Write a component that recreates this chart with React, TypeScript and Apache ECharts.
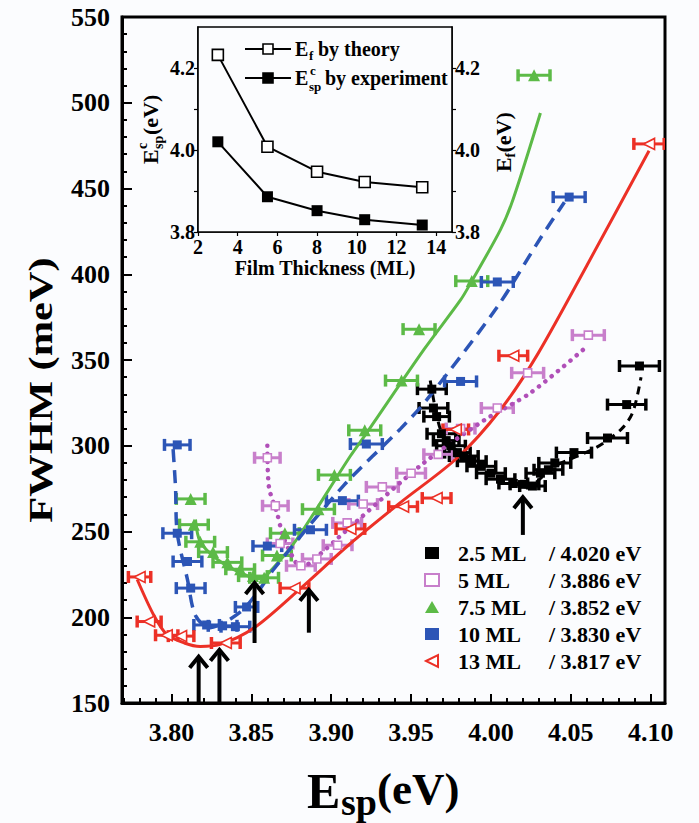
import React, { useEffect, useRef } from 'react';
import * as echarts from 'echarts';

const FONT = "'Liberation Serif', 'Times New Roman', serif";
const BG = '#fbfcfe';
const LEFT_TRIANGLE = 'path://M0,5L10,0L10,10Z';

// ---------- main chart data ----------
const layerNames = ['2.5 ML', '5 ML', '7.5 ML', '10 ML', '13 ML'];
const criticalEnergy = ['4.020', '3.886', '3.852', '3.830', '3.817'];

const xTickLabels = [3.8, 3.85, 3.9, 3.95, 4.0, 4.05, 4.1];

// [Esp (eV), FWHM (meV), half width of horizontal error bar (eV)]
const points2p5 = [
  [3.963, 333, 0.009], [3.964, 322, 0.009], [3.966, 317, 0.008], [3.969, 307, 0.009],
  [3.972, 303, 0.008], [3.975, 300, 0.009], [3.979, 296, 0.008], [3.983, 294, 0.009],
  [3.988, 291, 0.009], [3.994, 288, 0.009], [4.000, 284, 0.009], [4.006, 280.5, 0.009],
  [4.014, 278, 0.009], [4.021, 277.5, 0.009], [4.026, 276.5, 0.008], [4.031, 284, 0.009],
  [4.036, 286, 0.009], [4.040, 290, 0.01], [4.052, 296, 0.011], [4.073, 304.5, 0.0125],
  [4.085, 324, 0.012], [4.093, 346.5, 0.0125],
];
const points5 = [
  [3.860, 293, 0.008], [3.865, 265, 0.008], [3.868, 243, 0.008], [3.881, 230, 0.009],
  [3.891, 234, 0.009], [3.904, 242, 0.009], [3.910, 255, 0.009], [3.920, 266, 0.009],
  [3.932, 276, 0.01], [3.950, 284, 0.009], [3.967, 295, 0.009], [3.981, 310, 0.009],
  [4.004, 322, 0.01], [4.023, 342.5, 0.01], [4.061, 364.5, 0.01],
];
const points7p5 = [
  [3.812, 269, 0.009], [3.814, 254, 0.009], [3.818, 244, 0.009], [3.826, 238, 0.009],
  [3.835, 232, 0.009], [3.843, 228, 0.009], [3.851, 224, 0.009], [3.858, 223, 0.009],
  [3.866, 236, 0.009], [3.871, 249, 0.009], [3.892, 263, 0.01], [3.902, 283, 0.01],
  [3.921, 309, 0.01], [3.944, 338, 0.01], [3.955, 368, 0.01], [3.988, 396, 0.01],
  [4.027, 516, 0.01],
];
const points10 = [
  [3.8036, 300.5, 0.008], [3.8036, 249, 0.009], [3.810, 232.5, 0.009], [3.812, 217, 0.009],
  [3.822, 195.5, 0.008], [3.832, 195, 0.009], [3.840, 194.5, 0.009], [3.847, 206, 0.007],
  [3.860, 241.5, 0.009], [3.887, 251, 0.01], [3.907, 268, 0.01], [3.922, 301, 0.01],
  [3.981, 337.5, 0.01], [4.004, 395.5, 0.01], [4.049, 445, 0.01],
];
const points13 = [
  [3.780, 223.5, 0.007], [3.786, 197.5, 0.0075], [3.797, 189.5, 0.007], [3.806, 189, 0.008],
  [3.834, 185, 0.009], [3.877, 217, 0.009], [3.912, 251.5, 0.009], [3.945, 264.5, 0.009],
  [3.966, 269.5, 0.009], [3.978, 309.5, 0.008], [4.014, 352.5, 0.009], [4.099, 476, 0.0095],
];

// guide curves
const curve2p5 = [
  [3.962, 338], [3.966, 318], [3.970, 306], [3.980, 296], [4.000, 283], [4.022, 276],
  [4.040, 288], [4.066, 299], [4.082, 310], [4.089, 320], [4.094, 340],
];
const curve5 = [
  [3.860, 300], [3.861, 276], [3.866, 261], [3.870, 247], [3.876, 235], [3.881, 229],
  [3.892, 236], [3.904, 246], [3.916, 256], [3.958, 290], [3.996, 315], [4.025, 331], [4.059, 357],
];
const curve7p5 = [
  [3.815, 257], [3.818, 244], [3.829, 233.5], [3.843, 226], [3.8545, 222.5], [3.870, 235.5],
  [3.881, 249], [3.912, 294], [3.9226, 308], [3.958, 356], [3.981, 385], [3.988, 396],
  [4.006, 426], [4.014, 444], [4.031, 494],
];
const curve10 = [
  [3.801, 298], [3.8025, 276], [3.8036, 249], [3.810, 222], [3.815, 201], [3.824, 194],
  [3.843, 203], [3.855, 216], [3.864, 228], [3.908, 277], [3.9435, 310], [3.960, 327],
  [4.004, 381], [4.031, 421], [4.046, 442],
];
const curve13 = [
  [3.7785, 222], [3.789, 201], [3.797, 190], [3.808, 185], [3.818, 183], [3.830, 184],
  [3.852, 194], [3.881, 217], [3.912, 243], [3.9435, 267], [3.979, 293], [4.006, 321],
  [4.029, 353], [4.060, 405], [4.099, 472],
];

// arrows marking the critical energies
const arrowEsp = [3.817, 3.830, 3.852, 3.886, 4.020];
const arrowTail = [150, 150, 185, 191, 248];
const arrowTip = [177, 181, 220, 216, 270];

// ---------- inset data ----------
const insetThickness = [3, 5.5, 8, 10.4, 13.3];
const insetEfTheory = [4.232, 4.008, 3.947, 3.922, 3.909];
const insetEspExperiment = [4.020, 3.886, 3.852, 3.830, 3.817];
const insetXTicks = [2, 4, 6, 8, 10, 12, 14];
const insetYLabels = [3.8, 4.0, 4.2];
const insetYTicks = [3.8, 3.9, 4.0, 4.1, 4.2];

const specs = [
  { name: layerNames[0], pts: points2p5, curve: curve2p5, color: '#000000', lineColor: '#000000', symbol: 'rect', size: 9, open: false, dash: [8, 6], lw: 3, cap: 'butt' },
  { name: layerNames[1], pts: points5, curve: curve5, color: '#c87fcb', lineColor: '#b04fb8', symbol: 'rect', size: 8, open: true, dash: [0.1, 8], lw: 4.5, cap: 'round' },
  { name: layerNames[2], pts: points7p5, curve: curve7p5, color: '#5cba47', lineColor: '#5cba47', symbol: 'triangle', size: 12, open: false, dash: 'solid', lw: 3, cap: 'butt' },
  { name: layerNames[3], pts: points10, curve: curve10, color: '#2c55b6', lineColor: '#2c55b6', symbol: 'rect', size: 9, open: false, dash: [13, 8], lw: 3.5, cap: 'butt' },
  { name: layerNames[4], pts: points13, curve: curve13, color: '#ec3026', lineColor: '#ec3026', symbol: LEFT_TRIANGLE, size: 11, open: true, dash: 'solid', lw: 3, cap: 'butt' },
];

function txt(x: number, y: number, text: string, size: number, align = 'left') {
  return {
    type: 'text', x, y, silent: true,
    style: {
      text, fontFamily: FONT, fontWeight: 'bold', fontSize: size, fill: '#000',
      align, verticalAlign: 'middle', textAlign: align, textVerticalAlign: 'middle',
    },
  };
}

function buildOption() {
  const minorXTicks: number[] = [];
  for (let i = 377; i <= 410; i++) minorXTicks.push(i / 100);

  const series: any[] = [];
  specs.forEach((s) => {
    series.push({
      type: 'custom', name: s.name + ' error', xAxisIndex: 0, yAxisIndex: 0, clip: true, silent: true, z: 2,
      data: s.pts,
      encode: { x: 0, y: 1 },
      renderItem: (params: any, api: any) => {
        const x = api.value(0), y = api.value(1), e = api.value(2);
        const a = api.coord([x - e, y]);
        const b = api.coord([x + e, y]);
        const h = 6;
        return {
          type: 'group',
          children: [
            { type: 'line', shape: { x1: a[0], y1: a[1], x2: b[0], y2: b[1] }, style: { stroke: s.color, lineWidth: 3, fill: null } },
            { type: 'line', shape: { x1: a[0], y1: a[1] - h, x2: a[0], y2: a[1] + h }, style: { stroke: s.color, lineWidth: 3.5, fill: null } },
            { type: 'line', shape: { x1: b[0], y1: b[1] - h, x2: b[0], y2: b[1] + h }, style: { stroke: s.color, lineWidth: 3.5, fill: null } },
          ],
        };
      },
    });
  });
  specs.forEach((s) => {
    series.push({
      type: 'line', name: s.name + ' fit', xAxisIndex: 0, yAxisIndex: 0, data: s.curve,
      smooth: 0.3, showSymbol: false, symbol: 'none', silent: true, z: 3, clip: true,
      lineStyle: { color: s.lineColor, width: s.lw, type: s.dash, cap: s.cap },
    });
  });
  specs.forEach((s) => {
    series.push({
      type: 'scatter', name: s.name, xAxisIndex: 0, yAxisIndex: 0,
      data: s.pts.map((p) => [p[0], p[1]]),
      symbol: s.symbol, symbolSize: s.size, z: 4,
      itemStyle: s.open
        ? { color: '#ffffff', borderColor: s.color, borderWidth: 1.6, opacity: 1 }
        : { color: s.color, opacity: 1 },
    });
  });
  series.push({
    type: 'custom', name: 'arrows', xAxisIndex: 0, yAxisIndex: 0, clip: true, silent: true, z: 6,
    data: arrowEsp.map((x, i) => [x, arrowTail[i], arrowTip[i]]),
    encode: { x: 0, y: [1, 2] },
    renderItem: (params: any, api: any) => {
      const x = api.value(0);
      const p0 = api.coord([x, api.value(1)]);
      const p1 = api.coord([x, api.value(2)]);
      return {
        type: 'group',
        children: [
          { type: 'line', shape: { x1: p0[0], y1: p0[1], x2: p1[0], y2: p1[1] + 2 }, style: { stroke: '#000', lineWidth: 4 } },
          { type: 'polyline', shape: { points: [[p1[0] - 9, p1[1] + 11], [p1[0], p1[1]], [p1[0] + 9, p1[1] + 11]] }, style: { stroke: '#000', lineWidth: 4, fill: null, lineJoin: 'miter' } },
        ],
      };
    },
  });
  // inset
  series.push({
    type: 'line', name: 'Esp experiment', xAxisIndex: 2, yAxisIndex: 1,
    data: insetThickness.map((t, i) => [t, insetEspExperiment[i]]),
    symbol: 'rect', symbolSize: 11, z: 8,
    itemStyle: { color: '#000' }, lineStyle: { color: '#000', width: 2 },
  });
  series.push({
    type: 'line', name: 'Ef theory', xAxisIndex: 2, yAxisIndex: 2,
    data: insetThickness.map((t, i) => [t, insetEfTheory[i]]),
    symbol: 'rect', symbolSize: 11, z: 8,
    itemStyle: { color: '#ffffff', borderColor: '#000', borderWidth: 1.6 }, lineStyle: { color: '#000', width: 2 },
  });

  const labelStyle = (size: number) => ({ fontFamily: FONT, fontWeight: 'bold', fontSize: size, color: '#000' });
  const energyOf: Record<string, string> = {};
  layerNames.forEach((n, i) => { energyOf[n] = criticalEnergy[i]; });

  return {
    animation: false,
    backgroundColor: BG,
    grid: [
      { left: 122, top: 17, width: 543, height: 686, show: true, borderColor: '#000', borderWidth: 3, backgroundColor: 'transparent', outerBoundsMode: 'none', containLabel: false },
      { left: 198, top: 27, width: 254, height: 205, show: true, borderColor: '#000', borderWidth: 1.6, backgroundColor: BG, outerBoundsMode: 'none', containLabel: false, z: 5 },
    ],
    xAxis: [
      {
        type: 'value', gridIndex: 0, min: 3.769, max: 4.109, position: 'bottom', offset: 0,
        axisLine: { show: true, lineStyle: { color: '#000', width: 3 } },
        axisTick: { show: true, inside: true, length: 5, customValues: minorXTicks, lineStyle: { color: '#000', width: 2 } },
        axisLabel: { show: true, customValues: xTickLabels, formatter: (v: number) => v.toFixed(2), margin: 16, ...labelStyle(26) },
        splitLine: { show: false },
      },
      {
        type: 'value', gridIndex: 0, min: 3.769, max: 4.109, position: 'bottom', offset: 0,
        axisLine: { show: false },
        axisTick: { show: true, inside: true, length: 9, customValues: xTickLabels, lineStyle: { color: '#000', width: 2 } },
        axisLabel: { show: false },
        splitLine: { show: false },
      },
      {
        type: 'value', gridIndex: 1, min: 2, max: 14.8, position: 'bottom',
        axisLine: { show: true, lineStyle: { color: '#000', width: 1.6 } },
        axisTick: { show: true, inside: false, length: 4, customValues: insetXTicks, lineStyle: { color: '#000', width: 1.2 } },
        axisLabel: { show: true, customValues: insetXTicks, margin: 5, ...labelStyle(20) },
        splitLine: { show: false },
        name: 'Film Thickness (ML)', nameLocation: 'middle', nameGap: 26,
        nameTextStyle: { ...labelStyle(20) },
      },
    ],
    yAxis: [
      {
        type: 'value', gridIndex: 0, min: 150, max: 550, interval: 50,
        axisLine: { show: true, lineStyle: { color: '#000', width: 3 } },
        axisTick: { show: true, inside: true, length: 10, lineStyle: { color: '#000', width: 2 } },
        minorTick: { show: true, splitNumber: 5, length: 5, lineStyle: { color: '#000', width: 2 } },
        axisLabel: { margin: 12, ...labelStyle(26) },
        splitLine: { show: false }, minorSplitLine: { show: false },
      },
      {
        type: 'value', gridIndex: 1, min: 3.8, max: 4.3, position: 'left',
        axisLine: { show: true, lineStyle: { color: '#000', width: 1.6 } },
        axisTick: { show: true, inside: false, length: 4, customValues: insetYTicks, lineStyle: { color: '#000', width: 1.2 } },
        axisLabel: { show: true, customValues: insetYLabels, formatter: (v: number) => v.toFixed(1), margin: 3, ...labelStyle(20) },
        splitLine: { show: false },
      },
      {
        type: 'value', gridIndex: 1, min: 3.8, max: 4.3, position: 'right',
        axisLine: { show: true, lineStyle: { color: '#000', width: 1.6 } },
        axisTick: { show: true, inside: false, length: 4, customValues: insetYTicks, lineStyle: { color: '#000', width: 1.2 } },
        axisLabel: { show: true, customValues: insetYLabels, formatter: (v: number) => v.toFixed(1), margin: 3, ...labelStyle(20) },
        splitLine: { show: false },
      },
    ],
    legend: {
      data: layerNames.map((n, i) => (i === 4 ? { name: n, icon: LEFT_TRIANGLE } : { name: n })),
      orient: 'vertical', left: 419, top: 537, itemGap: 5, itemWidth: 14, itemHeight: 12,
      selectedMode: false,
      formatter: (name: string) => `{a|${name}}{b|/ ${energyOf[name]} eV}`,
      textStyle: {
        ...labelStyle(22), lineHeight: 22,
        rich: {
          a: { width: 91, padding: [0, 0, 0, 14], fontFamily: FONT, fontWeight: 'bold', fontSize: 22, color: '#000' },
          b: { fontFamily: FONT, fontWeight: 'bold', fontSize: 22, color: '#000' },
        },
      },
    },
    graphic: [
      {
        type: 'text', x: 41, y: 390, rotation: Math.PI / 2, scaleX: 1.25, silent: true,
        style: { text: 'FWHM (meV)', fontFamily: FONT, fontWeight: 'bold', fontSize: 34, fill: '#000', align: 'center', verticalAlign: 'middle', textAlign: 'center', textVerticalAlign: 'middle' },
      },
      txt(307, 791, 'E', 50),
      txt(341, 802, 'sp', 38),
      txt(377, 789, '(eV)', 45),
      {
        type: 'group', x: 150, y: 130, rotation: Math.PI / 2,
        children: [
          txt(-34, 0, 'E', 22), txt(-19, -8, 'c', 14), txt(-19, 8, 'sp', 14), txt(-5, 0, '(eV)', 22),
        ],
      },
      {
        type: 'group', x: 503, y: 140, rotation: Math.PI / 2,
        children: [
          txt(-32, 0, 'E', 22), txt(-17.5, 7, 'f', 14), txt(-12.5, 0, '(eV)', 22),
        ],
      },
      // inset legend
      { type: 'line', shape: { x1: 245, y1: 49, x2: 291, y2: 49 }, style: { stroke: '#000', lineWidth: 2 }, z: 10 },
      { type: 'rect', shape: { x: 263, y: 44, width: 10, height: 10 }, style: { fill: '#fff', stroke: '#000', lineWidth: 1.6 }, z: 11 },
      { ...txt(295, 49, 'E', 20), z: 10 },
      { ...txt(309, 55, 'f', 13), z: 10 },
      { ...txt(318, 49, 'by theory', 20), z: 10 },
      { type: 'line', shape: { x1: 245, y1: 78, x2: 291, y2: 78 }, style: { stroke: '#000', lineWidth: 2 }, z: 10 },
      { type: 'rect', shape: { x: 263, y: 73, width: 10, height: 10 }, style: { fill: '#000', stroke: '#000', lineWidth: 1.6 }, z: 11 },
      { ...txt(295, 78, 'E', 20), z: 10 },
      { ...txt(310, 70, 'c', 13), z: 10 },
      { ...txt(309, 86, 'sp', 13), z: 10 },
      { ...txt(325, 78, 'by experiment', 20), z: 10 },
    ],
    series,
  };
}

export default function App() {
  const ref = useRef<HTMLDivElement>(null);
  useEffect(() => {
    const chart = echarts.init(ref.current as HTMLDivElement, null, { renderer: 'svg' });
    chart.setOption(buildOption() as any);
    return () => chart.dispose();
  }, []);
  return <div ref={ref} style={{ position: 'fixed', left: 0, top: 0, width: 699, height: 823, background: BG }} />;
}
